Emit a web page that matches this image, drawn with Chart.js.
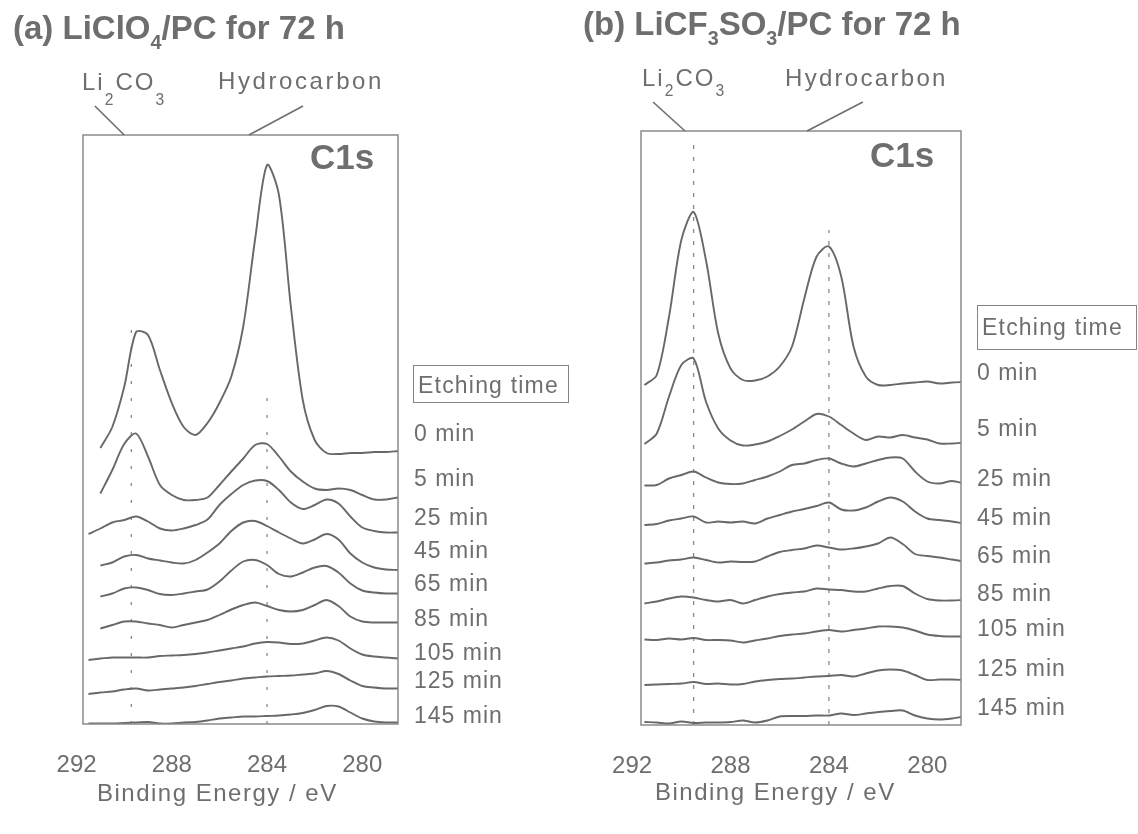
<!DOCTYPE html>
<html>
<head>
<meta charset="utf-8">
<script src="https://cdn.jsdelivr.net/npm/chart.js@4.4.1/dist/chart.umd.min.js"></script>
<style>
body { margin: 0; background: #fff; }
#wrap { position: relative; width: 1138px; height: 834px; overflow: hidden; font-family: 'Liberation Sans', Arial, sans-serif; color: #6e6e6e; }
canvas { position: absolute; top: 0; }
.t { position: absolute; white-space: nowrap; line-height: 1; z-index: 2; }
.title { font-size: 33px; font-weight: bold; }
.title sub { font-size: 0.6em; vertical-align: baseline; position: relative; top: 10px; }
.peak { font-size: 24px; letter-spacing: 2px; }
.peak sub { font-size: 0.65em; vertical-align: baseline; position: relative; }
.c1s { font-size: 35px; font-weight: bold; }
.etch { font-size: 23px; letter-spacing: 1.2px; }
.box { position: absolute; border: 1.5px solid #858585; z-index: 1; }
.lbl { font-size: 23px; letter-spacing: 1px; }
.axt { font-size: 24px; letter-spacing: 1.5px; }
</style>
</head>
<body>
<div id="wrap">
	<canvas id="chartA" width="569" height="834" style="left:0"></canvas>
	<canvas id="chartB" width="569" height="834" style="left:569px"></canvas>

	<div class="t title" style="left:13px;top:11px">(a) LiClO<sub>4</sub>/PC for 72 h</div>
	<div class="t title" style="left:583px;top:7px">(b) LiCF<sub>3</sub>SO<sub>3</sub>/PC for 72 h</div>

	<div class="t peak" style="left:82px;top:70px">Li<sub style="top:15px">2</sub>CO<sub style="top:15px">3</sub></div>
	<div class="t peak" style="left:218px;top:69px;letter-spacing:2.6px">Hydrocarbon</div>
	<div class="t peak" style="left:642px;top:66px">Li<sub style="top:10px">2</sub>CO<sub style="top:10px">3</sub></div>
	<div class="t peak" style="left:785px;top:66px;letter-spacing:2.3px">Hydrocarbon</div>

	<div class="t c1s" style="left:310px;top:139px">C1s</div>
	<div class="t c1s" style="left:870px;top:137px">C1s</div>

	<div class="box" style="left:413px;top:365px;width:154px;height:36px"></div>
	<div class="t etch" style="left:418px;top:374px">Etching time</div>
	<div class="box" style="left:977px;top:305px;width:158px;height:43px"></div>
	<div class="t etch" style="left:982px;top:316px">Etching time</div>

	<div class="t axt" style="left:97px;top:781px">Binding Energy / eV</div>
	<div class="t axt" style="left:655px;top:780px">Binding Energy / eV</div>
</div>

<script>
Chart.defaults.font.family = "'Liberation Sans', Arial, sans-serif"
Chart.defaults.color = '#6e6e6e'

// binding energy grid, eV
const energy = [291.5, 291, 290.5, 290, 289.5, 289, 288.5, 288, 287.5, 287, 286.5, 286, 285.5, 285, 284.5, 284, 283.5, 283, 282.5, 282, 281.5, 281, 280.5, 280, 279.5, 279, 278.5]
const tickValues = [292, 288, 284, 280]
const etchTimes = ['0 min', '5 min', '25 min', '45 min', '65 min', '85 min', '105 min', '125 min', '145 min']

// (a) LiClO4/PC, stacked C1s intensity (a.u.)
const liclo0 = [null, 55.2, 59.4, 67.4, 78.4, 77.8, 70.8, 64.2, 59.4, 57.8, 60.2, 64.2, 69.5, 79.5, 97.0, 111.8, 105.8, 83.5, 64.8, 56.8, 54.2, 54.0, 54.2, 54.2, 54.4, 54.4, 54.6]
const liclo5 = [null, 46.1, 50.8, 56.0, 58.1, 53.5, 47.8, 45.8, 44.8, 44.8, 45.3, 47.8, 50.5, 53.1, 55.8, 56.0, 53.5, 50.5, 48.5, 47.1, 46.8, 47.1, 46.8, 45.8, 44.9, 44.9, 45.3]
const liclo25 = [38.0, 39.1, 40.3, 40.8, 41.5, 40.5, 39.1, 38.7, 39.1, 39.8, 40.9, 43.8, 46.0, 47.8, 48.7, 48.6, 46.8, 44.3, 43.0, 43.8, 44.9, 44.1, 41.5, 39.3, 38.6, 38.3, 38.3]
const liclo45 = [null, 31.7, 32.3, 33.5, 33.8, 33.1, 32.7, 32.3, 32.1, 32.8, 34.3, 36.1, 38.6, 40.3, 40.6, 39.6, 38.3, 37.1, 36.1, 36.9, 38.0, 36.9, 34.1, 32.3, 31.3, 30.9, 30.8]
const liclo65 = [null, 25.5, 26.1, 27.1, 27.3, 26.8, 26.0, 25.8, 26.1, 26.5, 26.9, 28.5, 30.7, 32.5, 32.8, 31.8, 30.0, 29.5, 30.3, 31.3, 31.6, 30.3, 28.1, 26.7, 26.3, 26.1, 26.1]
const liclo85 = [null, 19.1, 19.8, 20.5, 20.5, 20.1, 19.8, 19.3, 19.8, 20.3, 20.8, 21.8, 22.9, 23.8, 24.3, 23.6, 22.8, 22.5, 22.8, 23.8, 24.8, 23.6, 21.5, 20.5, 20.3, 20.3, 20.3]
const liclo105 = [12.8, 13.1, 13.3, 13.3, 13.3, 13.3, 13.6, 13.7, 13.8, 14.0, 14.3, 14.7, 15.1, 15.5, 16.1, 16.4, 16.3, 16.0, 16.1, 16.7, 17.3, 16.7, 15.1, 13.9, 13.5, 13.3, 13.1]
const liclo125 = [6.0, 6.3, 6.5, 6.9, 7.1, 6.7, 6.9, 7.1, 7.3, 7.6, 8.0, 8.4, 8.7, 9.1, 9.3, 9.5, 9.6, 9.7, 9.9, 10.1, 10.6, 10.0, 8.7, 7.6, 7.3, 7.1, 7.1]
const liclo145 = [0.1, 0.1, 0.1, 0.2, 0.3, 0.4, 0.1, 0.1, 0.3, 0.4, 0.7, 1.1, 1.3, 1.5, 1.5, 1.6, 1.7, 1.9, 2.2, 2.8, 3.6, 3.5, 2.3, 1.1, 0.5, 0.3, 0.3]

// (b) LiCF3SO3/PC
const licf0 = [68.0, 70.0, 81.7, 97.0, 102.6, 93.0, 78.3, 71.3, 69.0, 68.9, 69.7, 71.7, 75.7, 85.3, 93.7, 95.7, 89.7, 75.7, 69.7, 68.0, 68.0, 68.3, 68.5, 68.7, 68.3, 68.5, 68.6]
const licf5 = [56.2, 58.3, 65.7, 72.0, 73.3, 64.7, 59.3, 56.9, 55.9, 56.1, 56.7, 57.8, 59.1, 60.7, 62.2, 61.7, 60.0, 58.3, 57.0, 57.7, 57.5, 58.0, 57.5, 57.1, 56.3, 56.3, 56.5]
const licf25 = [47.9, 48.0, 49.3, 50.0, 50.7, 49.5, 48.5, 48.2, 48.3, 49.0, 49.7, 50.7, 52.0, 52.3, 53.0, 53.3, 52.3, 51.7, 52.3, 53.0, 53.5, 53.3, 50.7, 48.7, 48.3, 48.8, 48.3]
const licf45 = [40.0, 40.2, 40.9, 41.3, 41.7, 40.5, 40.7, 40.5, 40.7, 40.3, 41.3, 42.0, 42.7, 43.2, 43.8, 44.5, 43.1, 42.9, 43.5, 44.7, 45.5, 44.7, 42.7, 41.3, 41.0, 40.7, 40.3]
const licf65 = [32.3, 32.5, 32.9, 33.1, 33.5, 33.0, 32.5, 32.7, 32.6, 32.7, 33.7, 34.6, 35.0, 35.3, 35.9, 35.5, 35.1, 35.3, 35.7, 36.3, 37.5, 36.2, 34.2, 33.8, 33.5, 33.1, 32.7]
const licf85 = [24.3, 24.7, 25.3, 25.7, 25.5, 25.0, 24.7, 25.0, 24.3, 25.0, 25.7, 26.2, 26.5, 26.7, 27.3, 27.1, 27.0, 26.7, 26.7, 27.3, 27.8, 27.8, 26.3, 25.2, 24.9, 24.9, 25.0]
const licf105 = [17.1, 17.0, 17.3, 17.1, 17.4, 17.0, 17.0, 16.9, 16.5, 16.9, 17.3, 17.8, 18.1, 18.3, 18.7, 19.0, 18.7, 19.0, 19.3, 19.7, 19.7, 19.5, 18.9, 18.1, 17.8, 17.7, 17.7]
const licf125 = [8.0, 8.1, 8.2, 8.3, 8.6, 8.2, 8.3, 8.1, 8.2, 8.7, 9.0, 9.2, 9.3, 9.5, 9.7, 9.8, 10.0, 9.7, 10.3, 10.9, 11.1, 10.9, 10.0, 9.0, 9.1, 9.1, 9.0]
const licf145 = [0.6, 0.5, 0.3, 0.7, 0.4, 0.5, 0.5, 0.6, 0.9, 0.5, 0.9, 1.7, 1.8, 1.8, 1.9, 1.9, 2.3, 2.0, 2.3, 2.6, 2.8, 2.9, 1.9, 1.3, 1.1, 1.3, 1.7]

const licloSeries = [liclo0, liclo5, liclo25, liclo45, liclo65, liclo85, liclo105, liclo125, liclo145]
const licfSeries = [licf0, licf5, licf25, licf45, licf65, licf85, licf105, licf125, licf145]

// peak reference positions (eV) and how far up the dotted guide reaches (a.u.)
const licloGuides = [[289.7, 80], [284.0, 68]]
const licfGuides = [[289.5, 116], [284.0, 99]]

const frame = {
	id: 'frame',
	afterDatasetsDraw(chart) {
		const { ctx, chartArea: a } = chart
		ctx.save()
		ctx.strokeStyle = '#8a8a8a'
		ctx.lineWidth = 1.5
		ctx.strokeRect(a.left, a.top, a.right - a.left, a.bottom - a.top)
		ctx.restore()
	},
}

// slanted pointer lines from the peak names down to the top of the frame
const leaders = {
	id: 'leaders',
	afterDraw(chart, args, opts) {
		const { ctx, chartArea, scales } = chart
		ctx.save()
		ctx.strokeStyle = '#6e6e6e'
		ctx.lineWidth = 1.6
		opts.lines.forEach(([from, to]) => {
			ctx.beginPath()
			ctx.moveTo(scales.x.getPixelForValue(from), chartArea.top - opts.rise)
			ctx.lineTo(scales.x.getPixelForValue(to), chartArea.top)
			ctx.stroke()
		})
		ctx.restore()
	},
}

function buildDatasets(series, guides, dash) {
	const sets = series.map((vals, i) => ({
		label: etchTimes[i],
		data: energy.map((e, j) => ({ x: e, y: vals[j] })),
		borderColor: '#686868',
		borderWidth: 1.9,
		pointRadius: 0,
		tension: 0.3,
		spanGaps: false,
	}))
	guides.forEach(([e, top]) => {
		sets.push({
			label: 'guide',
			data: [{ x: e, y: 0 }, { x: e, y: top }],
			borderColor: '#8a8a8a',
			borderWidth: 1.3,
			borderDash: dash,
			pointRadius: 0,
		})
	})
	return sets
}

function makeChart(id, series, guides, dash, range, padding, leaderLines) {
	return new Chart(document.getElementById(id), {
		type: 'line',
		data: { datasets: buildDatasets(series, guides, dash) },
		options: {
			responsive: false,
			animation: false,
			devicePixelRatio: 1,
			layout: { padding },
			plugins: {
				legend: { display: false },
				tooltip: { enabled: false },
				leaders: { lines: leaderLines, rise: 29 },
			},
			scales: {
				x: {
					type: 'linear',
					reverse: true,
					min: range[0],
					max: range[1],
					grid: { display: false, drawTicks: false },
					border: { display: false },
					afterBuildTicks: s => { s.ticks = tickValues.map(v => ({ value: v })) },
					afterFit: s => { s.height = 90 },
					ticks: {
						padding: 27,
						autoSkip: false,
						maxRotation: 0,
						color: '#6e6e6e',
						font: { size: 24 },
					},
				},
				y: { display: false, min: 0, max: range[2] },
			},
		},
		plugins: [frame, leaders],
	})
}

makeChart('chartA', licloSeries, licloGuides, [3, 14], [278.5, 291.73, 117.8],
	{ left: 83, right: 171, top: 135, bottom: 20 },
	[[291.23, 290.0], [282.49, 284.76]])

makeChart('chartB', licfSeries, licfGuides, [4, 8], [278.63, 291.64, 118.8],
	{ left: 72, right: 177, top: 131, bottom: 19 },
	[[291.15, 289.85], [282.62, 284.89]])

// etching time captions to the right of each stack
const labelTopsA = [422, 467, 506, 539, 572, 607, 641, 669, 704]
const labelTopsB = [361, 417, 467, 506, 544, 582, 617, 657, 696]
const wrap = document.getElementById('wrap')

function addLabels(left, tops) {
	etchTimes.forEach((txt, i) => {
		const d = document.createElement('div')
		d.className = 't lbl'
		d.style.left = left + 'px'
		d.style.top = tops[i] + 'px'
		d.textContent = txt
		wrap.appendChild(d)
	})
}

addLabels(414, labelTopsA)
addLabels(977, labelTopsB)
</script>
</body>
</html>
